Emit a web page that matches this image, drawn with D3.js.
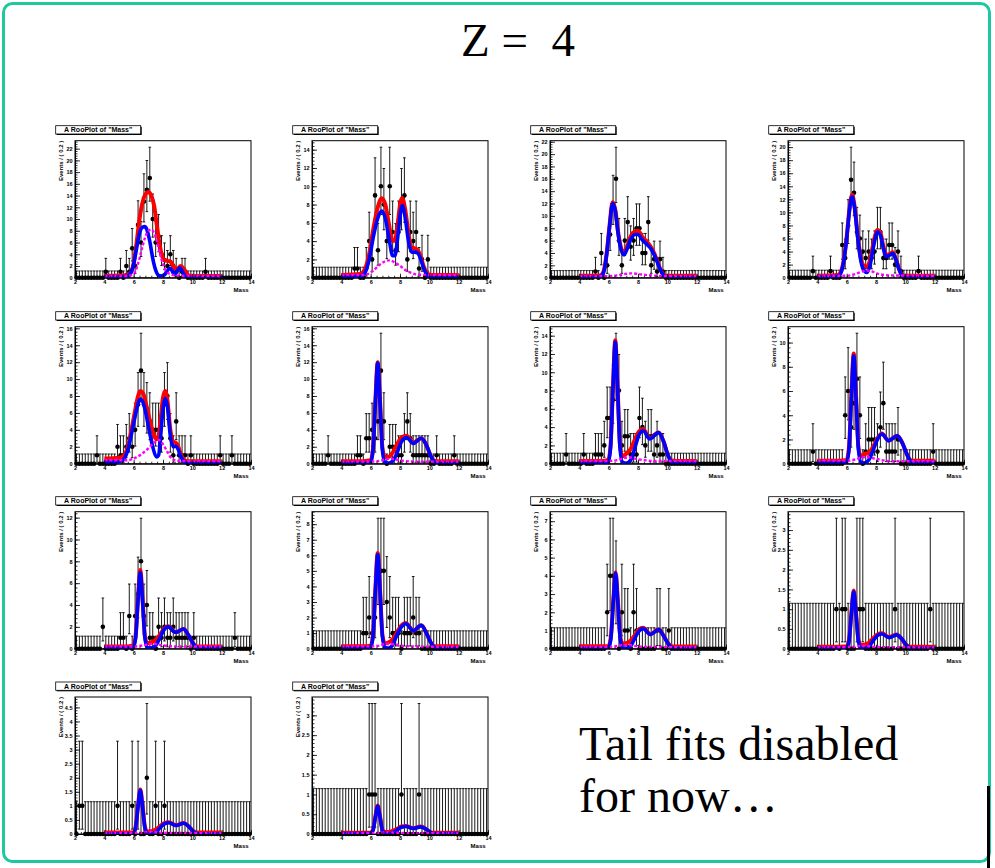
<!DOCTYPE html>
<html><head><meta charset="utf-8">
<script src="https://cdn.jsdelivr.net/npm/d3@7"></script>
<style>html,body{margin:0;padding:0;background:#fff;} svg{display:block;}</style>
</head><body><svg id="c" width="995" height="868"></svg>
<script>
// ---------- DATA ----------
const massBins = [2.1,2.3,2.5,2.7,2.9,3.1,3.3,3.5,3.7,3.9,4.1,4.3,4.5,4.7,4.9,5.1,5.3,5.5,5.7,5.9,6.1,6.3,6.5,6.7,6.9,7.1,7.3,7.5,7.7,7.9,8.1,8.3,8.5,8.7,8.9,9.1,9.3,9.5,9.7,9.9,10.1,10.3,10.5,10.7,10.9,11.1,11.3,11.5,11.7,11.9,12.1,12.3,12.5,12.7,12.9,13.1,13.3,13.5,13.7,13.9];
const xTicks = [2,4,6,8,10,12,14];
// Poisson 68% intervals (Garwood) for counts 0..17
const poissonLo = [0,0.1727,0.7082,1.3673,2.0857,2.8400,3.6200,4.4205,5.2380,6.0695,6.9130,7.7669,8.6302,9.5016,10.3802,11.2653,12.1562,13.0525];
const poissonHi = [1.1478,3.2996,4.6380,5.9182,7.1628,8.3825,9.5836,10.7702,11.9453,13.1111,14.2692,15.4209,16.5673,17.7091,18.8471,19.9818,21.1134,22.2425];

// non-zero bin counts [mass, events]
const p1Counts = [[4.1,1],[5.1,1],[5.5,2],[5.7,1],[5.9,5],[6.1,2],[6.3,9],[6.5,6],[6.7,13],[6.9,15],[7.1,17],[7.3,10],[7.5,6],[7.7,7],[7.9,4],[8.1,3],[8.3,2],[8.5,4],[8.7,2],[8.9,1],[9.3,1],[9.5,1],[10.9,1]];
const p2Counts = [[4.9,1],[5.1,1],[5.7,1],[5.9,4],[6.1,2],[6.3,9],[6.5,3],[6.7,10],[6.9,8],[7.1,4],[7.3,10],[7.5,5],[7.7,3],[7.9,5],[8.1,8],[8.3,9],[8.5,2],[8.7,5],[8.9,4],[9.1,5],[9.3,1],[9.5,2],[9.9,2]];
const p3Counts = [[5.1,1],[5.5,4],[5.9,2],[6.1,7],[6.3,12],[6.5,16],[6.7,6],[6.9,2],[7.1,6],[7.3,9],[7.5,5],[7.7,6],[7.9,8],[8.1,8],[8.3,4],[8.5,4],[8.7,9],[8.9,2],[9.1,3],[9.3,1],[9.5,3],[9.7,1]];
const p4Counts = [[3.7,1],[4.9,1],[5.7,5],[5.9,3],[6.1,8],[6.3,15],[6.5,13],[6.7,7],[6.9,6],[7.1,4],[7.3,3],[7.5,4],[7.7,3],[7.9,4],[8.1,7],[8.3,7],[8.5,3],[8.7,3],[8.9,5],[9.1,5],[9.3,2],[9.5,4],[9.7,1],[10.9,1]];
const p5Counts = [[3.5,1],[4.9,2],[5.1,1],[5.3,1],[5.5,2],[5.7,3],[5.9,2],[6.1,4],[6.3,7],[6.5,11],[6.7,7],[6.9,6],[7.1,5],[7.3,4],[7.5,4],[7.7,4],[7.9,3],[8.1,7],[8.3,8],[8.5,3],[8.7,1],[8.9,5],[9.1,1],[9.3,1],[9.5,1],[9.9,1],[11.9,1],[12.7,1]];
const p6Counts = [[3.1,1],[5.1,1],[5.3,1],[5.7,3],[5.9,3],[6.1,4],[6.3,3],[6.5,5],[6.7,11],[6.9,5],[7.3,2],[7.5,2],[7.7,2],[7.9,1],[8.1,1],[8.3,3],[8.5,5],[8.7,3],[8.9,1],[9.1,1],[9.3,1],[9.5,1],[9.7,1],[9.9,1],[10.5,1],[11.7,1]];
const p7Counts = [[3.1,1],[4.3,1],[5.1,1],[5.3,1],[5.5,1],[5.7,2],[5.9,5],[6.1,5],[6.3,7],[6.5,10],[6.7,8],[6.9,2],[7.1,3],[7.3,3],[7.5,1],[7.7,1],[7.9,1],[8.1,5],[8.3,4],[8.5,2],[8.7,3],[8.9,3],[9.1,1],[9.3,2],[9.5,1],[9.7,1]];
const p8Counts = [[3.7,1],[5.9,4],[6.1,6],[6.3,3],[6.5,5],[6.7,7],[6.9,4],[7.3,1],[7.5,2],[7.7,2],[7.9,2],[8.1,1],[8.3,3],[8.5,5],[8.7,1],[8.9,1],[9.1,1],[9.3,1],[9.5,2],[11.9,1]];
const p9Counts = [[3.9,2],[5.1,1],[5.3,1],[5.7,3],[6.1,3],[6.3,5],[6.5,8],[6.7,3],[6.9,4],[7.1,1],[7.3,1],[7.7,2],[7.9,1],[8.1,2],[8.3,1],[8.5,1],[8.7,2],[8.9,1],[9.1,1],[9.3,1],[9.5,1],[9.7,1],[10.1,1],[12.9,1]];
const p10Counts = [[5.5,1],[5.7,1],[5.9,2],[6.1,1],[6.3,2],[6.5,5],[6.7,5],[6.9,5],[7.1,3],[7.3,2],[7.5,1],[7.7,1],[7.9,1],[8.3,1],[8.5,1],[8.7,1],[8.9,2],[9.1,1],[9.3,1]];
const p11Counts = [[5.9,2],[6.1,4],[6.3,4],[6.5,3],[6.9,2],[7.1,1],[7.3,1],[7.7,2],[7.9,1],[9.3,1],[9.5,1],[10.1,1]];
const p12Counts = [[5.3,1],[5.7,1],[5.9,1],[6.7,1],[6.9,1],[7.1,1],[9.3,1],[11.7,1]];
const p13Counts = [[2.3,1],[2.5,1],[4.9,1],[5.9,1],[6.3,1],[6.9,2],[7.5,1],[8.1,1]];
const p14Counts = [[5.9,1],[6.1,1],[6.3,1],[8.1,1],[9.3,1]];

// fitted curves: [mass, events per 0.2]
const p1Red  = [[4,0.3],[5.5,0.4],[5.8,0.9],[6.0,2.5],[6.2,6.0],[6.4,10.0],[6.6,12.8],[6.8,14.2],[7.0,14.6],[7.2,14.0],[7.4,12.2],[7.6,8.6],[7.8,5.2],[8.0,3.3],[8.2,2.9],[8.45,2.8],[8.6,2.5],[8.8,1.6],[8.95,1.5],[9.2,2.0],[9.4,1.6],[9.6,0.8],[9.8,0.35],[10.2,0.3],[12,0.3]];
const p1Blue = [[4,0.15],[5.5,0.2],[5.8,0.8],[6.0,2.3],[6.2,5.0],[6.4,7.6],[6.6,8.6],[6.75,8.7],[6.9,8.2],[7.1,6.2],[7.3,3.3],[7.5,1.3],[7.7,0.4],[7.9,0.3],[8.1,0.5],[8.3,1.2],[8.5,1.6],[8.7,0.8],[8.8,0.6],[9.0,1.3],[9.15,1.7],[9.3,1.2],[9.5,0.3],[9.8,0.05],[12,0.05]];
const p1Bkg  = [[4,0.3],[5.5,0.3],[6.0,0.6],[6.2,1.6],[6.4,3.3],[6.6,5.3],[6.8,7.0],[7.0,8.0],[7.2,8.2],[7.4,7.6],[7.6,6.0],[7.8,4.0],[8.0,2.3],[8.2,1.2],[8.5,0.6],[9.0,0.35],[12,0.3]];

const p2Red  = [[4,0.3],[5.3,0.4],[5.6,0.9],[5.9,2.6],[6.2,5.5],[6.5,7.8],[6.75,8.7],[7.0,8.0],[7.25,5.8],[7.5,4.0],[7.65,4.1],[7.85,6.0],[8.05,8.4],[8.15,8.7],[8.35,7.5],[8.6,4.6],[8.8,3.3],[9.0,3.2],[9.2,3.0],[9.4,2.4],[9.6,1.3],[9.8,0.6],[10.1,0.3],[12,0.3]];
const p2Blue = [[4,0.1],[5.3,0.15],[5.6,0.5],[5.9,2.0],[6.2,4.6],[6.5,6.6],[6.75,7.3],[7.0,6.5],[7.25,4.3],[7.5,2.4],[7.65,2.4],[7.85,4.5],[8.05,7.3],[8.15,7.9],[8.35,6.6],[8.6,3.8],[8.8,2.8],[9.0,2.8],[9.2,2.7],[9.4,2.1],[9.6,1.1],[9.8,0.4],[10.1,0.05],[12,0.05]];
const p2Bkg  = [[4,0.3],[5.3,0.3],[5.8,0.4],[6.2,0.8],[6.6,1.4],[7.0,1.8],[7.3,1.9],[7.6,1.7],[8.0,1.3],[8.4,0.8],[8.8,0.5],[9.2,0.35],[10,0.3],[12,0.3]];

const p3Red  = [[4,0.3],[5.4,0.35],[5.65,1.0],[5.85,3.7],[6.05,8.2],[6.27,12.2],[6.45,11.0],[6.65,7.3],[6.85,4.8],[7.05,4.1],[7.25,5.0],[7.5,6.7],[7.8,7.5],[8.0,7.6],[8.3,6.6],[8.6,5.8],[8.9,4.9],[9.1,4.0],[9.3,2.8],[9.5,1.5],[9.7,0.6],[9.9,0.3],[12,0.3]];
const p3Blue = [[4,0.1],[5.4,0.15],[5.65,0.8],[5.85,3.5],[6.05,8.0],[6.27,12.0],[6.45,10.8],[6.65,7.0],[6.85,4.5],[7.05,3.7],[7.25,4.6],[7.5,6.2],[7.8,7.0],[8.0,7.0],[8.3,6.1],[8.6,5.4],[8.9,4.6],[9.1,3.7],[9.3,2.6],[9.5,1.4],[9.7,0.5],[9.9,0.1],[12,0.05]];
const p3Bkg  = [[4,0.25],[6.0,0.25],[6.5,0.35],[7.0,0.55],[7.5,0.7],[8.0,0.6],[8.5,0.45],[9.0,0.35],[10,0.25],[12,0.25]];

const p4Red  = [[4,0.3],[5.4,0.4],[5.6,0.9],[5.8,2.7],[6.0,6.2],[6.2,10.7],[6.37,12.7],[6.55,10.8],[6.75,6.5],[6.95,3.2],[7.15,1.9],[7.4,1.7],[7.6,2.8],[7.85,5.6],[8.1,7.3],[8.3,6.9],[8.5,4.8],[8.7,3.5],[8.9,3.6],[9.15,3.9],[9.35,2.9],[9.55,1.5],[9.75,0.5],[10,0.3],[12,0.3]];
const p4Blue = [[4,0.1],[5.4,0.2],[5.6,0.7],[5.8,2.5],[6.0,6.0],[6.2,10.5],[6.37,12.4],[6.55,10.5],[6.75,6.2],[6.95,2.8],[7.15,1.2],[7.4,0.8],[7.6,2.0],[7.85,5.0],[8.1,7.0],[8.3,6.5],[8.5,4.5],[8.7,3.2],[8.9,3.4],[9.15,3.7],[9.35,2.8],[9.55,1.4],[9.75,0.4],[10,0.05],[12,0.05]];
const p4Bkg  = [[4,0.3],[6.0,0.3],[6.5,0.5],[7.0,0.9],[7.4,1.1],[7.8,0.9],[8.3,0.5],[9.0,0.35],[12,0.3]];

const p5Red  = [[4,0.6],[5.0,0.7],[5.3,0.9],[5.6,2.0],[5.85,4.0],[6.1,6.3],[6.3,8.0],[6.45,8.6],[6.65,8.3],[6.85,7.0],[7.05,5.5],[7.3,3.8],[7.55,2.9],[7.7,3.3],[7.85,5.5],[8.0,7.8],[8.15,8.6],[8.3,7.5],[8.5,4.0],[8.7,2.6],[8.85,2.5],[9.0,2.2],[9.2,1.2],[9.4,0.5],[9.7,0.3],[12,0.3]];
const p5Blue = [[4,0.2],[5.0,0.25],[5.3,0.5],[5.6,1.6],[5.85,3.5],[6.1,5.6],[6.3,7.1],[6.45,7.6],[6.65,7.2],[6.85,5.8],[7.05,4.0],[7.3,2.0],[7.55,0.8],[7.7,1.0],[7.85,3.5],[8.0,6.5],[8.15,7.7],[8.3,6.8],[8.5,3.3],[8.7,2.0],[8.85,2.1],[9.0,1.8],[9.2,0.9],[9.4,0.3],[9.7,0.05],[12,0.05]];
const p5Bkg  = [[4,0.4],[5.5,0.4],[6.0,0.6],[6.5,1.1],[7.0,1.8],[7.4,2.5],[7.7,2.8],[8.0,2.3],[8.3,1.4],[8.6,0.6],[9.0,0.35],[10,0.3],[12,0.3]];

const p6Red  = [[4,0.3],[5.5,0.3],[6.0,0.4],[6.16,1.8],[6.32,7.4],[6.48,12.0],[6.64,7.4],[6.8,1.9],[6.96,0.8],[7.2,0.8],[7.5,1.3],[7.8,2.3],[8.1,3.1],[8.45,3.3],[8.9,2.5],[9.45,3.0],[9.8,2.2],[10.1,0.9],[10.35,0.35],[10.6,0.3],[12,0.3]];
const p6Blue = [[4,0.05],[5.5,0.05],[6.0,0.15],[6.16,1.6],[6.32,7.2],[6.48,11.9],[6.64,7.2],[6.8,1.6],[6.96,0.2],[7.2,0.05],[7.5,0.3],[7.8,1.3],[8.1,2.6],[8.45,3.1],[8.9,2.4],[9.45,3.0],[9.8,2.2],[10.1,0.9],[10.35,0.2],[10.6,0.05],[12,0.05]];
const p6Bkg  = [[4,0.25],[6,0.25],[6.5,0.3],[7.0,0.5],[7.3,0.6],[7.7,0.5],[8.2,0.35],[9,0.25],[12,0.25]];

const p7Red  = [[4,0.3],[5.5,0.3],[5.97,0.4],[6.13,2.0],[6.29,8.3],[6.45,13.5],[6.61,8.3],[6.77,2.1],[6.93,0.8],[7.2,1.1],[7.5,1.6],[7.8,2.7],[8.05,3.5],[8.35,3.8],[8.8,2.8],[9.4,3.4],[9.75,2.4],[10.05,0.9],[10.3,0.35],[10.6,0.3],[12,0.3]];
const p7Blue = [[4,0.05],[5.5,0.05],[5.97,0.15],[6.13,1.8],[6.29,8.1],[6.45,13.3],[6.61,8.1],[6.77,1.8],[6.93,0.2],[7.2,0.05],[7.5,0.4],[7.8,1.8],[8.05,3.1],[8.35,3.6],[8.8,2.7],[9.4,3.4],[9.75,2.4],[10.05,0.9],[10.3,0.2],[10.6,0.05],[12,0.05]];
const p7Bkg  = [[4,0.3],[6,0.3],[6.6,0.4],[7.0,0.6],[7.4,0.7],[7.8,0.55],[8.4,0.4],[9,0.3],[12,0.3]];

const p8Red  = [[4,0.25],[5.5,0.25],[6.0,0.3],[6.16,1.4],[6.32,5.6],[6.48,9.1],[6.64,5.6],[6.8,1.4],[6.96,0.6],[7.2,0.8],[7.5,0.9],[7.8,1.4],[8.1,2.1],[8.4,2.5],[8.85,1.9],[9.45,2.3],[9.8,1.7],[10.1,0.8],[10.35,0.3],[10.6,0.25],[12,0.25]];
const p8Blue = [[4,0.05],[5.5,0.05],[6.0,0.12],[6.16,1.2],[6.32,5.4],[6.48,8.9],[6.64,5.4],[6.8,1.2],[6.96,0.15],[7.2,0.05],[7.5,0.3],[7.8,1.1],[8.1,2.0],[8.4,2.45],[8.85,1.9],[9.45,2.3],[9.8,1.7],[10.1,0.8],[10.35,0.2],[10.6,0.05],[12,0.05]];
const p8Bkg  = [[4,0.25],[6,0.25],[6.6,0.35],[7.0,0.5],[7.4,0.55],[7.8,0.45],[8.4,0.3],[9,0.2],[12,0.2]];

const p9Red  = [[4,0.2],[5.5,0.2],[5.97,0.3],[6.13,1.1],[6.29,4.5],[6.45,7.2],[6.61,4.5],[6.77,1.1],[6.93,0.5],[7.2,0.6],[7.5,0.8],[7.8,1.3],[8.05,1.8],[8.35,2.05],[8.85,1.5],[9.4,1.8],[9.75,1.2],[10.05,0.5],[10.3,0.2],[10.6,0.2],[12,0.2]];
const p9Blue = [[4,0.05],[5.5,0.05],[5.97,0.1],[6.13,0.95],[6.29,4.3],[6.45,7.0],[6.61,4.3],[6.77,0.95],[6.93,0.1],[7.2,0.05],[7.5,0.3],[7.8,1.0],[8.05,1.7],[8.35,2.0],[8.85,1.5],[9.4,1.8],[9.75,1.2],[10.05,0.5],[10.3,0.1],[10.6,0.05],[12,0.05]];
const p9Bkg  = [[4,0.2],[6,0.2],[6.6,0.3],[7.0,0.4],[7.4,0.45],[7.8,0.35],[8.4,0.25],[9,0.2],[12,0.2]];

const p10Red  = [[4,0.15],[5.5,0.15],[6.0,0.2],[6.16,0.9],[6.32,3.8],[6.48,6.15],[6.64,3.8],[6.8,0.9],[6.96,0.35],[7.2,0.4],[7.5,0.6],[7.8,1.05],[8.1,1.5],[8.4,1.65],[8.9,1.15],[9.45,1.5],[9.8,1.0],[10.1,0.4],[10.35,0.15],[10.6,0.15],[12,0.15]];
const p10Blue = [[4,0.03],[5.5,0.03],[6.0,0.1],[6.16,0.8],[6.32,3.7],[6.48,6.05],[6.64,3.7],[6.8,0.8],[6.96,0.1],[7.2,0.03],[7.5,0.25],[7.8,0.9],[8.1,1.4],[8.4,1.6],[8.9,1.15],[9.45,1.5],[9.8,1.0],[10.1,0.4],[10.35,0.08],[10.6,0.03],[12,0.03]];
const p10Bkg  = [[4,0.15],[6,0.15],[6.6,0.2],[7.0,0.3],[7.4,0.3],[7.8,0.25],[8.4,0.15],[12,0.12]];

const p11Red  = [[4,0.13],[5.5,0.13],[5.99,0.15],[6.15,0.65],[6.31,2.6],[6.47,4.2],[6.63,2.6],[6.79,0.65],[6.95,0.28],[7.2,0.3],[7.5,0.45],[7.8,0.75],[8.05,1.05],[8.35,1.15],[8.85,0.8],[9.4,1.07],[9.75,0.7],[10.05,0.3],[10.3,0.13],[10.6,0.12],[12,0.12]];
const p11Blue = [[4,0.02],[5.5,0.02],[5.99,0.05],[6.15,0.55],[6.31,2.5],[6.47,4.15],[6.63,2.5],[6.79,0.55],[6.95,0.05],[7.2,0.02],[7.5,0.15],[7.8,0.6],[8.05,0.95],[8.35,1.1],[8.85,0.78],[9.4,1.05],[9.75,0.7],[10.05,0.28],[10.3,0.05],[10.6,0.02],[12,0.02]];
const p11Bkg  = [[4,0.1],[6,0.1],[6.6,0.15],[7.0,0.2],[7.4,0.2],[7.8,0.15],[8.4,0.1],[12,0.08]];

const p12Red  = [[4,0.05],[5.5,0.05],[6.0,0.06],[6.16,0.23],[6.32,0.9],[6.48,1.47],[6.64,0.9],[6.8,0.23],[6.96,0.09],[7.2,0.1],[7.5,0.15],[7.8,0.26],[8.1,0.36],[8.4,0.39],[8.9,0.29],[9.4,0.36],[9.75,0.25],[10.05,0.1],[10.3,0.05],[10.6,0.05],[12,0.05]];
const p12Blue = [[4,0.01],[5.5,0.01],[6.0,0.02],[6.16,0.19],[6.32,0.87],[6.48,1.44],[6.64,0.87],[6.8,0.19],[6.96,0.02],[7.2,0.01],[7.5,0.05],[7.8,0.2],[8.1,0.33],[8.4,0.37],[8.9,0.28],[9.4,0.35],[9.75,0.25],[10.05,0.1],[10.3,0.02],[10.6,0.01],[12,0.01]];
const p12Bkg  = [[4,0.04],[6,0.04],[6.6,0.05],[7.0,0.07],[7.4,0.07],[7.8,0.05],[8.4,0.04],[12,0.03]];

const p13Red  = [[4,0.05],[5.5,0.05],[5.97,0.06],[6.13,0.25],[6.29,0.97],[6.45,1.58],[6.61,0.97],[6.77,0.25],[6.93,0.09],[7.2,0.1],[7.5,0.16],[7.8,0.28],[8.1,0.39],[8.4,0.42],[8.9,0.31],[9.4,0.39],[9.75,0.27],[10.05,0.11],[10.3,0.05],[10.6,0.05],[12,0.05]];
const p13Blue = [[4,0.01],[5.5,0.01],[5.97,0.02],[6.13,0.21],[6.29,0.94],[6.45,1.55],[6.61,0.94],[6.77,0.21],[6.93,0.02],[7.2,0.01],[7.5,0.06],[7.8,0.22],[8.1,0.36],[8.4,0.4],[8.9,0.3],[9.4,0.38],[9.75,0.27],[10.05,0.1],[10.3,0.02],[10.6,0.01],[12,0.01]];
const p13Bkg  = [[4,0.04],[6,0.04],[6.6,0.05],[7.0,0.07],[7.4,0.07],[7.8,0.05],[8.4,0.04],[12,0.03]];

const p14Red  = [[4,0.03],[5.5,0.03],[6.0,0.03],[6.16,0.11],[6.32,0.44],[6.48,0.72],[6.64,0.44],[6.8,0.11],[6.96,0.05],[7.2,0.05],[7.5,0.08],[7.8,0.13],[8.1,0.19],[8.4,0.2],[8.9,0.15],[9.4,0.19],[9.75,0.13],[10.05,0.05],[10.3,0.03],[10.6,0.03],[12,0.03]];
const p14Blue = [[4,0.01],[5.5,0.01],[6.0,0.01],[6.16,0.09],[6.32,0.42],[6.48,0.7],[6.64,0.42],[6.8,0.09],[6.96,0.01],[7.2,0.01],[7.5,0.03],[7.8,0.1],[8.1,0.17],[8.4,0.19],[8.9,0.14],[9.4,0.18],[9.75,0.13],[10.05,0.05],[10.3,0.01],[10.6,0.01],[12,0.01]];
const p14Bkg  = [[4,0.02],[6,0.02],[6.6,0.03],[7.0,0.04],[7.4,0.04],[7.8,0.03],[8.4,0.02],[12,0.02]];

// major y tick step of each panel
const yTickSteps = [2,2,2,2, 2,2,2,2, 2,1,1,0.5, 0.5,0.5];

const panels = [
  {counts:p1Counts, red:p1Red, blue:p1Blue, bkg:p1Bkg},
  {counts:p2Counts, red:p2Red, blue:p2Blue, bkg:p2Bkg},
  {counts:p3Counts, red:p3Red, blue:p3Blue, bkg:p3Bkg},
  {counts:p4Counts, red:p4Red, blue:p4Blue, bkg:p4Bkg},
  {counts:p5Counts, red:p5Red, blue:p5Blue, bkg:p5Bkg},
  {counts:p6Counts, red:p6Red, blue:p6Blue, bkg:p6Bkg},
  {counts:p7Counts, red:p7Red, blue:p7Blue, bkg:p7Bkg},
  {counts:p8Counts, red:p8Red, blue:p8Blue, bkg:p8Bkg},
  {counts:p9Counts, red:p9Red, blue:p9Blue, bkg:p9Bkg},
  {counts:p10Counts, red:p10Red, blue:p10Blue, bkg:p10Bkg},
  {counts:p11Counts, red:p11Red, blue:p11Blue, bkg:p11Bkg},
  {counts:p12Counts, red:p12Red, blue:p12Blue, bkg:p12Bkg},
  {counts:p13Counts, red:p13Red, blue:p13Blue, bkg:p13Bkg},
  {counts:p14Counts, red:p14Red, blue:p14Blue, bkg:p14Bkg}
];

// ---------- LAYOUT ----------
const FRAME_X = [75, 312, 550, 788];
const FRAME_Y = [140.7, 326.7, 511.7, 697];
const FW = 176, FH = 137;
const SANS = "'Liberation Sans', Arial, Helvetica, sans-serif";
const SERIF = "'Liberation Serif', 'Times New Roman', serif";

const svg = d3.select('#c');
svg.append('rect').attr('x',3.5).attr('y',3.5).attr('width',986).attr('height',858)
  .attr('rx',9).attr('fill','#fff').attr('stroke','#1ec8a0').attr('stroke-width',3);

svg.append('text').attr('x',518).attr('y',56).attr('text-anchor','middle')
  .attr('font-family',SERIF).attr('font-size',47).style('white-space','pre').text('Z =  4');

const txt = svg.append('text').attr('font-family',SERIF).attr('font-size',48);
txt.append('tspan').attr('x',579).attr('y',760).text('Tail fits disabled');
txt.append('tspan').attr('x',579).attr('y',812).text('for now\u2026');

svg.append('rect').attr('x',987).attr('y',786).attr('width',3).attr('height',82).attr('fill','#000');

panels.forEach((p, i) => {
  const col = i % 4, row = Math.floor(i / 4);
  const fx = FRAME_X[col], fy = FRAME_Y[row];
  const g = svg.append('g');
  const step = yTickSteps[i];

  const counts = massBins.map(m => {
    const f = p.counts.find(d => Math.abs(d[0] - m) < 0.01);
    return f ? f[1] : 0;
  });
  const yMax = 1.05 * d3.max(counts, n => poissonHi[n]);
  const x = d3.scaleLinear().domain([2, 14]).range([fx, fx + FW]);
  const y = d3.scaleLinear().domain([0, yMax]).range([fy + FH, fy]);

  const clipId = 'clip' + i;
  g.append('clipPath').attr('id', clipId).append('rect')
    .attr('x', fx).attr('y', fy).attr('width', FW).attr('height', FH);

  // title box
  const bx = fx - 19.3, by = fy - 15, bw = 85, bh = 8.3;
  g.append('rect').attr('x', bx + 1).attr('y', by + 1).attr('width', bw).attr('height', bh).attr('fill', '#000');
  g.append('rect').attr('x', bx).attr('y', by).attr('width', bw).attr('height', bh)
    .attr('fill', '#fff').attr('stroke', '#000').attr('stroke-width', 0.8);
  g.append('text').attr('x', bx + bw / 2).attr('y', by + 6.6).attr('text-anchor', 'middle')
    .attr('font-family', SANS).attr('font-weight', 'bold').attr('font-size', 7)
    .text('A RooPlot of "Mass"');

  // frame
  g.append('rect').attr('x', fx).attr('y', fy).attr('width', FW).attr('height', FH)
    .attr('fill', 'none').attr('stroke', '#000').attr('stroke-width', 1);

  // data
  const dg = g.append('g').attr('stroke', '#000').attr('stroke-width', 0.9);
  massBins.forEach((m, k) => {
    const n = counts[k];
    const lo = poissonLo[n], hi = poissonHi[n];
    const cx = x(m);
    dg.append('line').attr('x1', cx).attr('x2', cx).attr('y1', y(lo)).attr('y2', y(hi));
    dg.append('line').attr('x1', x(m - 0.1)).attr('x2', x(m + 0.1)).attr('y1', y(n)).attr('y2', y(n));
    dg.append('line').attr('x1', cx - 1.3).attr('x2', cx + 1.3).attr('y1', y(hi)).attr('y2', y(hi));
    if (n > 0) dg.append('line').attr('x1', cx - 1.3).attr('x2', cx + 1.3).attr('y1', y(lo)).attr('y2', y(lo));
  });
  g.append('g').selectAll('circle').data(massBins).join('circle')
    .attr('cx', m => x(m)).attr('cy', (m, k) => y(counts[k])).attr('r', 2.3).attr('fill', '#000');

  // curves
  const line = d3.line().x(d => x(d[0])).y(d => y(d[1])).curve(d3.curveMonotoneX);
  const cg = g.append('g').attr('clip-path', `url(#${clipId})`).attr('fill', 'none');
  cg.append('path').attr('d', line(p.red)).attr('stroke', '#ff0000').attr('stroke-width', 4);
  cg.append('path').attr('d', line(p.blue)).attr('stroke', '#0000ff').attr('stroke-width', 3.6);
  cg.append('path').attr('d', line(p.bkg)).attr('stroke', '#ff00ff').attr('stroke-width', 2.4)
    .attr('stroke-dasharray', '3,2');

  // axes
  const yMajor = d3.range(0, yMax + 1e-9, step);
  const yMinor = d3.range(0, yMax + 1e-9, step / 5);
  const fmt = d3.format('~g');
  g.append('g').attr('transform', `translate(${fx},0)`)
    .call(d3.axisLeft(y).tickValues(yMajor).tickFormat(fmt).tickSizeInner(-5).tickSizeOuter(0).tickPadding(2.5));
  g.append('g').attr('transform', `translate(${fx},0)`)
    .call(d3.axisLeft(y).tickValues(yMinor).tickFormat('').tickSizeInner(-2.5).tickSizeOuter(0))
    .select('.domain').remove();
  const xMinor = d3.range(2, 14.0001, 0.4);
  g.append('g').attr('transform', `translate(0,${fy + FH})`)
    .call(d3.axisBottom(x).tickValues(xTicks).tickFormat(fmt).tickSizeInner(-4).tickSizeOuter(0).tickPadding(2.4));
  g.append('g').attr('transform', `translate(0,${fy + FH})`)
    .call(d3.axisBottom(x).tickValues(xMinor).tickFormat('').tickSizeInner(-2).tickSizeOuter(0))
    .select('.domain').remove();
  g.selectAll('.tick text').attr('font-family', SANS).attr('font-weight', 'bold').attr('font-size', 5.5).attr('fill', '#000');
  g.selectAll('.tick line').attr('stroke', '#000').attr('stroke-width', 0.8);
  g.selectAll('.domain').attr('stroke', '#000');

  g.append('text').attr('x', fx + FW - 2.4).attr('y', fy + FH + 13.8).attr('text-anchor', 'end')
    .attr('font-family', SANS).attr('font-weight', 'bold').attr('font-size', 6).text('Mass');
  g.append('text').attr('transform', `translate(${fx - 11.8},${fy}) rotate(-90)`).attr('text-anchor', 'end')
    .attr('font-family', SANS).attr('font-weight', 'bold').attr('font-size', 6).text('Events / ( 0.2 )');
});
</script></body></html>
